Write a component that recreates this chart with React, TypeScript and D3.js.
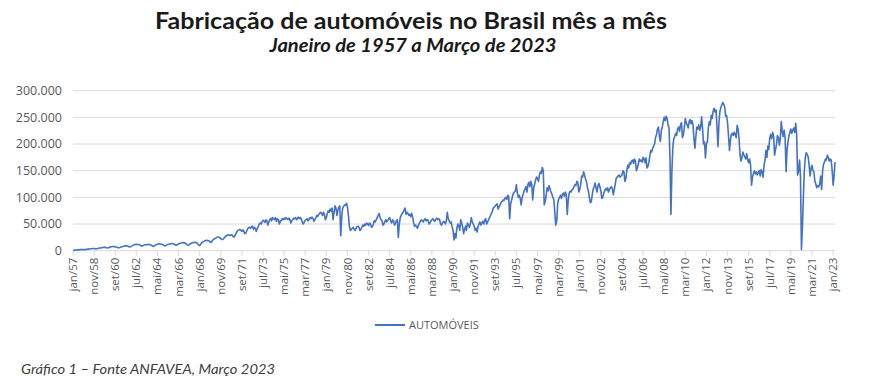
import React from "react";
import * as d3 from "d3";

// Monthly car production (thousand units), Jan 1957 – Mar 2023
const startYear = 1957;
const automoveisMil: number[] = [
  // 1957
  0.5, 0.8, 1.0, 1.2, 1.3, 1.5, 1.6, 1.8, 2.0, 2.2, 2.3, 2.0,
  // 1958
  2.0, 2.2, 2.5, 2.7, 3.0, 3.2, 3.5, 3.8, 4.0, 4.2, 4.0, 3.6,
  // 1959
  3.5, 3.8, 4.2, 4.6, 5.0, 5.3, 5.6, 6.0, 6.3, 6.5, 6.2, 5.5,
  // 1960
  5.0, 5.5, 6.5, 7.0, 7.5, 7.8, 8.0, 7.6, 7.2, 6.8, 6.5, 5.5,
  // 1961
  5.5, 6.2, 7.0, 7.5, 8.0, 8.5, 9.0, 9.3, 9.0, 8.5, 8.0, 7.0,
  // 1962
  7.5, 8.5, 9.5, 10.5, 11.0, 11.5, 11.8, 12.0, 11.5, 11.0, 10.5, 9.0,
  // 1963
  9.0, 9.5, 10.5, 11.0, 11.5, 11.0, 11.5, 12.0, 11.0, 10.5, 10.0, 8.5,
  // 1964
  8.0, 9.5, 10.5, 11.5, 12.0, 12.5, 13.0, 12.5, 12.0, 11.5, 11.0, 9.5,
  // 1965
  9.0, 10.0, 11.0, 11.5, 12.0, 12.5, 13.0, 13.5, 13.0, 12.5, 12.0, 10.5,
  // 1966
  10.5, 11.5, 12.5, 13.5, 14.0, 14.5, 15.0, 15.5, 15.0, 14.0, 13.0, 11.0,
  // 1967
  10.0, 11.0, 12.5, 13.5, 14.5, 15.0, 15.5, 16.0, 15.5, 14.5, 13.0, 10.5,
  // 1968
  9.5, 12.0, 14.5, 16.0, 17.0, 18.0, 19.0, 19.5, 19.0, 18.5, 18.0, 16.0,
  // 1969
  16.0, 18.5, 20.5, 22.0, 23.0, 24.0, 25.0, 26.0, 25.0, 24.5, 23.0, 21.0,
  // 1970
  21.0, 23.0, 25.0, 27.0, 28.0, 29.0, 30.0, 29.0, 28.5, 30.0, 29.0, 26.0,
  // 1971
  26.0, 29.0, 33.0, 36.0, 38.0, 39.0, 40.0, 38.0, 36.0, 39.0, 37.0, 32.0,
  // 1972
  33.0, 37.0, 41.0, 43.0, 44.0, 42.0, 45.0, 46.0, 40.0, 44.0, 42.0, 36.0,
  // 1973
  42.0, 45.0, 50.0, 52.0, 50.0, 54.0, 57.0, 56.0, 53.0, 58.0, 56.0, 48.0,
  // 1974
  54.0, 58.0, 61.0, 56.0, 62.0, 60.0, 58.0, 62.0, 55.0, 60.0, 58.0, 50.0,
  // 1975
  55.0, 57.0, 60.0, 58.0, 61.0, 59.0, 62.0, 60.0, 58.0, 61.0, 59.0, 52.0,
  // 1976
  56.0, 58.0, 61.0, 60.0, 62.0, 58.0, 61.0, 63.0, 60.0, 62.0, 59.0, 53.0,
  // 1977
  50.0, 54.0, 57.0, 58.0, 60.0, 56.0, 59.0, 62.0, 60.0, 63.0, 61.0, 55.0,
  // 1978
  58.0, 62.0, 66.0, 64.0, 68.0, 70.0, 72.0, 70.0, 66.0, 72.0, 68.0, 58.0,
  // 1979
  62.0, 70.0, 75.0, 72.0, 78.0, 74.0, 80.0, 58.0, 72.0, 84.0, 80.0, 66.0,
  // 1980
  76.0, 82.0, 84.0, 28.0, 62.0, 80.0, 83.0, 86.0, 85.0, 89.0, 82.0, 66.0,
  // 1981
  45.0, 38.0, 40.0, 42.0, 44.0, 40.0, 38.0, 42.0, 45.0, 46.0, 44.0, 38.0,
  // 1982
  40.0, 44.0, 48.0, 46.0, 50.0, 48.0, 52.0, 50.0, 47.0, 52.0, 50.0, 44.0,
  // 1983
  45.0, 50.0, 56.0, 54.0, 58.0, 62.0, 66.0, 70.0, 62.0, 58.0, 56.0, 48.0,
  // 1984
  50.0, 55.0, 58.0, 54.0, 57.0, 60.0, 62.0, 56.0, 52.0, 58.0, 56.0, 48.0,
  // 1985
  52.0, 56.0, 58.0, 25.0, 50.0, 62.0, 66.0, 70.0, 72.0, 76.0, 80.0, 68.0,
  // 1986
  72.0, 70.0, 66.0, 68.0, 64.0, 70.0, 62.0, 52.0, 46.0, 48.0, 45.0, 42.0,
  // 1987
  48.0, 52.0, 55.0, 58.0, 56.0, 54.0, 58.0, 60.0, 56.0, 58.0, 57.0, 50.0,
  // 1988
  52.0, 56.0, 58.0, 60.0, 57.0, 55.0, 59.0, 61.0, 58.0, 60.0, 58.0, 50.0,
  // 1989
  48.0, 52.0, 55.0, 54.0, 50.0, 56.0, 72.0, 60.0, 56.0, 52.0, 54.0, 45.0,
  // 1990
  38.0, 20.0, 32.0, 24.0, 42.0, 50.0, 46.0, 38.0, 58.0, 52.0, 44.0, 32.0,
  // 1991
  40.0, 46.0, 38.0, 52.0, 48.0, 44.0, 50.0, 62.0, 54.0, 50.0, 46.0, 38.0,
  // 1992
  42.0, 35.0, 45.0, 50.0, 54.0, 48.0, 52.0, 55.0, 50.0, 58.0, 60.0, 50.0,
  // 1993
  54.0, 58.0, 62.0, 66.0, 70.0, 74.0, 80.0, 82.0, 84.0, 86.0, 88.0, 78.0,
  // 1994
  82.0, 86.0, 90.0, 92.0, 95.0, 94.0, 98.0, 100.0, 96.0, 104.0, 102.0, 60.0,
  // 1995
  88.0, 95.0, 102.0, 108.0, 110.0, 112.0, 124.0, 108.0, 100.0, 104.0, 98.0, 86.0,
  // 1996
  100.0, 106.0, 112.0, 116.0, 120.0, 110.0, 124.0, 128.0, 120.0, 130.0, 124.0, 95.0,
  // 1997
  118.0, 125.0, 132.0, 138.0, 136.0, 130.0, 142.0, 148.0, 145.0, 156.0, 150.0, 86.0,
  // 1998
  92.0, 104.0, 118.0, 112.0, 122.0, 116.0, 110.0, 106.0, 100.0, 96.0, 72.0, 48.0,
  // 1999
  55.0, 88.0, 96.0, 100.0, 104.0, 98.0, 106.0, 108.0, 102.0, 110.0, 104.0, 68.0,
  // 2000
  95.0, 108.0, 112.0, 110.0, 114.0, 116.0, 120.0, 124.0, 122.0, 130.0, 128.0, 110.0,
  // 2001
  115.0, 125.0, 140.0, 138.0, 148.0, 142.0, 135.0, 130.0, 118.0, 112.0, 100.0, 90.0,
  // 2002
  92.0, 105.0, 115.0, 120.0, 127.0, 118.0, 110.0, 122.0, 126.0, 120.0, 112.0, 98.0,
  // 2003
  100.0, 108.0, 112.0, 116.0, 114.0, 118.0, 110.0, 115.0, 118.0, 120.0, 116.0, 105.0,
  // 2004
  115.0, 125.0, 136.0, 138.0, 140.0, 142.0, 138.0, 140.0, 142.0, 150.0, 148.0, 130.0,
  // 2005
  135.0, 150.0, 160.0, 155.0, 165.0, 162.0, 168.0, 170.0, 164.0, 172.0, 168.0, 150.0,
  // 2006
  155.0, 162.0, 172.0, 168.0, 170.0, 166.0, 175.0, 172.0, 165.0, 174.0, 155.0, 158.0,
  // 2007
  165.0, 178.0, 188.0, 185.0, 192.0, 196.0, 200.0, 212.0, 218.0, 228.0, 232.0, 215.0,
  // 2008
  205.0, 225.0, 232.0, 242.0, 250.0, 244.0, 252.0, 248.0, 236.0, 230.0, 175.0, 68.0,
  // 2009
  150.0, 195.0, 210.0, 214.0, 220.0, 216.0, 228.0, 232.0, 224.0, 236.0, 240.0, 212.0,
  // 2010
  218.0, 232.0, 248.0, 240.0, 236.0, 230.0, 242.0, 246.0, 238.0, 244.0, 236.0, 210.0,
  // 2011
  192.0, 215.0, 232.0, 228.0, 236.0, 226.0, 232.0, 251.0, 228.0, 200.0, 204.0, 174.0,
  // 2012
  200.0, 205.0, 230.0, 242.0, 236.0, 254.0, 248.0, 262.0, 267.0, 260.0, 264.0, 232.0,
  // 2013
  195.0, 240.0, 260.0, 268.0, 273.0, 278.0, 275.0, 270.0, 252.0, 254.0, 240.0, 215.0,
  // 2014
  188.0, 208.0, 218.0, 220.0, 216.0, 222.0, 218.0, 212.0, 235.0, 228.0, 210.0, 180.0,
  // 2015
  168.0, 175.0, 185.0, 180.0, 176.0, 172.0, 182.0, 170.0, 165.0, 172.0, 160.0, 123.0,
  // 2016
  138.0, 145.0, 150.0, 144.0, 148.0, 142.0, 146.0, 150.0, 140.0, 152.0, 148.0, 138.0,
  // 2017
  160.0, 170.0, 188.0, 175.0, 196.0, 190.0, 212.0, 218.0, 210.0, 222.0, 214.0, 179.0,
  // 2018
  190.0, 200.0, 216.0, 212.0, 198.0, 210.0, 242.0, 224.0, 214.0, 226.0, 210.0, 148.0,
  // 2019
  190.0, 205.0, 215.0, 222.0, 228.0, 220.0, 226.0, 230.0, 222.0, 239.0, 218.0, 142.0,
  // 2020
  150.0, 170.0, 140.0, 2.0, 45.0, 100.0, 150.0, 175.0, 184.0, 180.0, 176.0, 160.0,
  // 2021
  140.0, 155.0, 160.0, 150.0, 148.0, 130.0, 125.0, 118.0, 122.0, 120.0, 125.0, 140.0,
  // 2022
  115.0, 150.0, 162.0, 166.0, 172.0, 170.0, 179.0, 175.0, 168.0, 172.0, 170.0, 150.0,
  // 2023
  123.0, 140.0, 166.0,
];

const tickLabels = [
  "jan/57", "nov/58", "set/60", "jul/62", "mai/64", "mar/66", "jan/68", "nov/69",
  "set/71", "jul/73", "mai/75", "mar/77", "jan/79", "nov/80", "set/82", "jul/84",
  "mai/86", "mar/88", "jan/90", "nov/91", "set/93", "jul/95", "mai/97", "mar/99",
  "jan/01", "nov/02", "set/04", "jul/06", "mai/08", "mar/10", "jan/12", "nov/13",
  "set/15", "jul/17", "mai/19", "mar/21", "jan/23",
];
const tickStepMonths = 22;
const yTicks = [0, 50000, 100000, 150000, 200000, 250000, 300000];

const title = "Fabricação de automóveis no Brasil mês a mês";
const subtitle = "Janeiro de 1957 a Março de 2023";
const seriesName = "AUTOMÓVEIS";
const footer = "Gráfico 1 – Fonte ANFAVEA, Março 2023";

const W = 887;
const H = 391;
const X0 = 73;
const X1 = 835;
const Y0 = 250.7;
const Y1 = 90.7;

const ptBR = d3.formatLocale({
  decimal: ",",
  thousands: ".",
  grouping: [3],
  currency: ["R$", ""],
});
const fmt = ptBR.format(",");

export default function App() {
  const data = automoveisMil.map((v, i) => ({
    date: new Date(startYear, i, 1),
    value: v * 1000,
  }));
  const x = d3
    .scaleTime()
    .domain([data[0].date, data[data.length - 1].date])
    .range([X0, X1]);
  const y = d3.scaleLinear().domain([0, 300000]).range([Y0, Y1]);
  const line = d3
    .line<{ date: Date; value: number }>()
    .x((d) => x(d.date))
    .y((d) => y(d.value));

  const ticks = tickLabels.map((label, k) => ({
    label,
    date: new Date(startYear, k * tickStepMonths, 1),
  }));

  const font = "'Open Sans', 'Liberation Sans', sans-serif";
  const headFont = "Lato, 'Open Sans', sans-serif";

  return (
    <svg
      width={W}
      height={H}
      style={{ position: "absolute", left: 0, top: 0, background: "#fff" }}
      fontFamily={font}
    >
      <rect width={W} height={H} fill="#fff" />
      <text
        x={411}
        y={29}
        textAnchor="middle"
        fontFamily={headFont}
        fontSize={23}
        fontWeight="bold"
        fill="#1a1a1a"
        textLength={512}
        lengthAdjust="spacingAndGlyphs"
      >
        {title}
      </text>
      <text
        x={413}
        y={52}
        textAnchor="middle"
        fontFamily={headFont}
        fontSize={18}
        fontWeight="bold"
        fontStyle="italic"
        fill="#1a1a1a"
        textLength={287}
        lengthAdjust="spacingAndGlyphs"
      >
        {subtitle}
      </text>

      {yTicks.map((t) => (
        <g key={t}>
          <line
            x1={X0}
            x2={X1}
            y1={y(t)}
            y2={y(t)}
            stroke="#d9d9d9"
            strokeWidth={1}
          />
          <text
            x={62}
            y={y(t)}
            dy="0.35em"
            textAnchor="end"
            fontSize={12.5}
            fill="#595959"
          >
            {fmt(t)}
          </text>
        </g>
      ))}

      {ticks.map((t) => (
        <g key={t.label} transform={`translate(${x(t.date)},${Y0})`}>
          <line y1={0} y2={5} stroke="#d9d9d9" />
          <text
            transform="rotate(-90)"
            x={-7}
            y={0}
            dy="0.35em"
            textAnchor="end"
            fontSize={11.5}
            fill="#595959"
          >
            {t.label}
          </text>
        </g>
      ))}

      <path
        d={line(data) ?? ""}
        fill="none"
        stroke="#4472C4"
        strokeWidth={1.6}
        strokeLinejoin="round"
      />

      <line x1={375} x2={405} y1={325} y2={325} stroke="#4472C4" strokeWidth={2} />
      <text x={409} y={325} dy="0.35em" fontSize={11} fill="#595959">
        {seriesName}
      </text>

      <text
        x={21}
        y={374}
        fontFamily={headFont}
        fontSize={14}
        fontStyle="italic"
        fill="#404040"
        textLength={254}
        lengthAdjust="spacingAndGlyphs"
      >
        {footer}
      </text>
    </svg>
  );
}
